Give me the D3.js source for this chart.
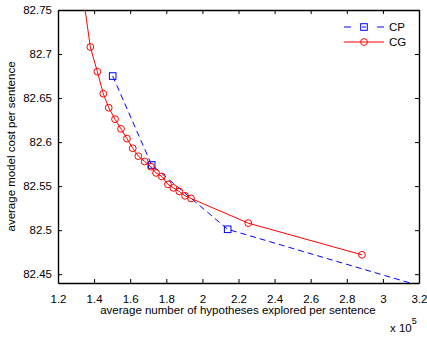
<!DOCTYPE html>
<html>
<head>
<meta charset="utf-8">
<script src="https://cdn.jsdelivr.net/npm/d3@7"></script>
<style>
  body { margin: 0; background: #fff; }
  text { font-family: "Liberation Sans", Arial, sans-serif; fill: #000; }
</style>
</head>
<body>
<div id="chart"></div>
<script>
// values (x in units of 1e5)
const cpX = [1.503, 1.719, 2.140, 3.40];
const cpY = [82.675, 82.574, 82.501, 82.425];

const cgX = [1.33, 1.379, 1.418, 1.451, 1.481, 1.516, 1.549, 1.582, 1.614, 1.645, 1.680,
             1.715, 1.743, 1.775, 1.809, 1.839, 1.872, 1.904, 1.937, 2.254, 2.884];
const cgY = [82.78, 82.708, 82.680, 82.655, 82.639, 82.626, 82.615, 82.604, 82.593, 82.584, 82.578,
             82.572, 82.565, 82.561, 82.552, 82.548, 82.544, 82.539, 82.536, 82.508, 82.472];

const xTicks = [1.2, 1.4, 1.6, 1.8, 2, 2.2, 2.4, 2.6, 2.8, 3, 3.2];
const yTicks = [82.45, 82.5, 82.55, 82.6, 82.65, 82.7, 82.75];

const W = 427, H = 337;
const mLeft = 58, mRight = 419, mTop = 10, mBottom = 283;
const fs = "11.5px";

const svg = d3.select("#chart").append("svg")
  .attr("width", W).attr("height", H);

const x = d3.scaleLinear().domain([1.2, 3.2]).range([mLeft, mRight]);
const y = d3.scaleLinear().domain([82.44, 82.75]).range([mBottom, mTop]);

svg.append("clipPath").attr("id", "clip")
  .append("rect")
  .attr("x", mLeft).attr("y", mTop)
  .attr("width", mRight - mLeft).attr("height", mBottom - mTop);

// axes with inward ticks, mirrored on all sides
const tl = 4;
const fmt = d => String(d);
svg.append("g")
  .attr("transform", `translate(0,${mBottom})`)
  .call(d3.axisBottom(x).tickValues(xTicks).tickFormat(fmt).tickSizeInner(-tl).tickSizeOuter(0).tickPadding(12));
svg.append("g")
  .attr("transform", `translate(0,${mTop})`)
  .call(d3.axisTop(x).tickValues(xTicks).tickFormat("").tickSizeInner(-tl).tickSizeOuter(0));
svg.append("g")
  .attr("transform", `translate(${mLeft},0)`)
  .call(d3.axisLeft(y).tickValues(yTicks).tickFormat(fmt).tickSizeInner(-tl).tickSizeOuter(0).tickPadding(6));
svg.append("g")
  .attr("transform", `translate(${mRight},0)`)
  .call(d3.axisRight(y).tickValues(yTicks).tickFormat("").tickSizeInner(-tl).tickSizeOuter(0));

svg.selectAll(".domain").attr("stroke", "#000").attr("stroke-width", 1.4);
svg.selectAll(".tick line").attr("stroke", "#000");
svg.selectAll(".tick text").style("font-size", fs).attr("fill", "#000");

// axis labels
svg.append("text")
  .attr("x", 238).attr("y", 314)
  .attr("text-anchor", "middle").style("font-size", fs)
  .text("average number of hypotheses explored per sentence");
svg.append("text")
  .attr("transform", `translate(15,${(mTop + mBottom) / 2}) rotate(-90)`)
  .attr("text-anchor", "middle").style("font-size", fs)
  .text("average model cost per sentence");
const ex = svg.append("text").attr("x", 390).attr("y", 332).style("font-size", fs);
ex.append("tspan").text("x 10");
ex.append("tspan").attr("dy", -8).style("font-size", "9px").text("5");

const plot = svg.append("g").attr("clip-path", "url(#clip)");
const line = d3.line().x(d => x(d[0])).y(d => y(d[1]));

const cp = cpX.map((v, i) => [v, cpY[i]]);
const cg = cgX.map((v, i) => [v, cgY[i]]);

plot.append("path").attr("d", line(cp))
  .attr("fill", "none").attr("stroke", "#0000ff").attr("stroke-width", 1)
  .attr("stroke-dasharray", "6,4");
plot.selectAll(".sq").data(cp).enter().append("rect")
  .attr("x", d => x(d[0]) - 3.3).attr("y", d => y(d[1]) - 3.3)
  .attr("width", 6.6).attr("height", 6.6)
  .attr("fill", "none").attr("stroke", "#0000ff").attr("stroke-width", 1);

plot.append("path").attr("d", line(cg))
  .attr("fill", "none").attr("stroke", "#ff0000").attr("stroke-width", 1);
plot.selectAll(".ci").data(cg).enter().append("circle")
  .attr("cx", d => x(d[0])).attr("cy", d => y(d[1])).attr("r", 3.4)
  .attr("fill", "none").attr("stroke", "#ff0000").attr("stroke-width", 1);

// legend
const leg = svg.append("g");
const legItems = [
  { name: "CP", color: "#0000ff", dash: true, mark: "square", y: 27 },
  { name: "CG", color: "#ff0000", dash: false, mark: "circle", y: 42 }
];
legItems.forEach(it => {
  leg.append("line").attr("x1", 344).attr("x2", 384).attr("y1", it.y).attr("y2", it.y)
    .attr("stroke", it.color).attr("stroke-dasharray", it.dash ? "7,11,4,11,7" : null);
  if (it.mark === "square") {
    leg.append("rect").attr("x", 364 - 3.3).attr("y", it.y - 3.3).attr("width", 6.6).attr("height", 6.6)
      .attr("fill", "none").attr("stroke", it.color);
  } else {
    leg.append("circle").attr("cx", 364).attr("cy", it.y).attr("r", 3.4)
      .attr("fill", "none").attr("stroke", it.color);
  }
  leg.append("text").attr("x", 389).attr("y", it.y + 4).style("font-size", fs).text(it.name);
});
</script>
</body>
</html>
